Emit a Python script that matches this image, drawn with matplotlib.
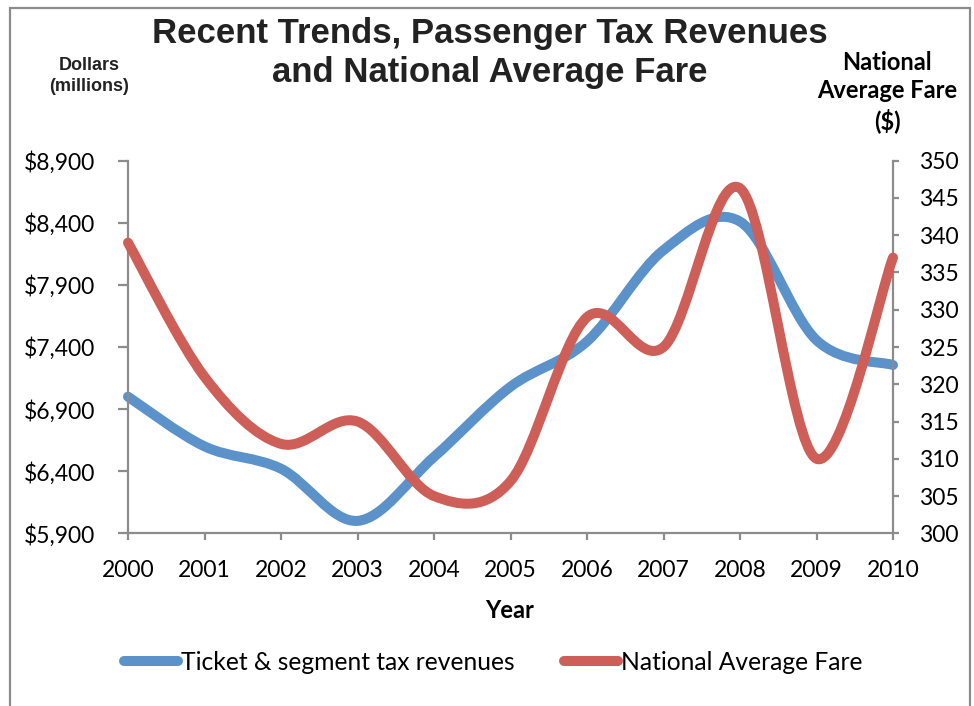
import matplotlib
matplotlib.use("Agg")
import matplotlib.pyplot as plt
from matplotlib.path import Path
from matplotlib.patches import PathPatch, Rectangle
from matplotlib.lines import Line2D
from matplotlib.ticker import FuncFormatter, MultipleLocator

years = [2000, 2001, 2002, 2003, 2004, 2005, 2006, 2007, 2008, 2009, 2010]
revenues = [7000, 6600, 6420, 6000, 6515, 7080, 7445, 8180, 8410, 7455, 7255]
avg_fare = [339, 321, 312, 315, 305, 307, 329, 325, 346.3, 310, 337]

dollar_ticks = [5900, 6400, 6900, 7400, 7900, 8400, 8900]
series_labels = ["Ticket & segment tax revenues", "National Average Fare"]
title = "Recent Trends, Passenger Tax Revenues\nand National Average Fare"

BLUE = "#5B92C9"
RED = "#CD5F58"
GRID = "#8C8C8C"


def smooth_path(xs, ys):
    """Cubic Bezier path through the points (Catmull-Rom style tangents)."""
    n = len(xs)
    verts = [(xs[0], ys[0])]
    codes = [Path.MOVETO]
    for i in range(n - 1):
        x0, y0 = (xs[i - 1], ys[i - 1]) if i > 0 else (xs[i], ys[i])
        x1, y1 = xs[i], ys[i]
        x2, y2 = xs[i + 1], ys[i + 1]
        x3, y3 = (xs[i + 2], ys[i + 2]) if i + 2 < n else (xs[i + 1], ys[i + 1])
        c1 = (x1 + (x2 - x0) / 6.0, y1 + (y2 - y0) / 6.0)
        c2 = (x2 - (x3 - x1) / 6.0, y2 - (y3 - y1) / 6.0)
        verts += [c1, c2, (x2, y2)]
        codes += [Path.CURVE4] * 3
    return Path(verts, codes)


fig = plt.figure(figsize=(9.74, 7.06), dpi=100)
fig.patch.set_facecolor("white")

# outer chart frame
fig.patches.append(Rectangle((10 / 974, -0.05), 960 / 974, 1.05 - 8 / 706,
                             transform=fig.transFigure, fill=False,
                             edgecolor=GRID, lw=1.6))

ax = fig.add_axes([128 / 974, 1 - 533.3 / 706, (893 - 128) / 974, (533.3 - 160.7) / 706])
ax2 = ax.twinx()

ax.set_xlim(2000, 2010)
ax.set_ylim(dollar_ticks[0], dollar_ticks[-1])
ax2.set_ylim(300, 350)
ax.set_yticks(dollar_ticks)
ax2.yaxis.set_major_locator(MultipleLocator(5))
ax.set_xticks(years)
ax.yaxis.set_major_formatter(FuncFormatter(lambda v, p: "${:,.0f}".format(v)))

for a in (ax, ax2):
    for s in a.spines.values():
        s.set_visible(False)
    a.patch.set_visible(False)
ax.spines["left"].set_visible(True)
ax.spines["bottom"].set_visible(True)
ax2.spines["right"].set_visible(True)
for s in (ax.spines["left"], ax.spines["bottom"], ax2.spines["right"]):
    s.set_color(GRID)
    s.set_linewidth(1.6)

ax.tick_params(axis="y", direction="out", length=7, width=1.6, color=GRID, pad=16.5,
               labelsize=16.5, labelcolor="black")
ax.tick_params(axis="x", direction="out", length=5, width=1.6, color=GRID, pad=14,
               labelsize=16.5, labelcolor="black")
ax2.tick_params(axis="y", direction="out", length=4, width=1.6, color=GRID, pad=14.5,
                labelsize=16.5, labelcolor="black")
for lab in ax.get_xticklabels() + ax.get_yticklabels() + ax2.get_yticklabels():
    lab.set_fontfamily("Lato")

ax.add_patch(PathPatch(smooth_path(years, revenues), fill=False, edgecolor=BLUE,
                       lw=7.2, capstyle="round", joinstyle="round", clip_on=False))
ax2.add_patch(PathPatch(smooth_path(years, avg_fare), fill=False, edgecolor=RED,
                        lw=7.2, capstyle="round", joinstyle="round", clip_on=False, zorder=3))

fig.text(490 / 974, 1 - 53 / 706, title, ha="center", va="center",
         family="Liberation Sans", weight="bold", size=25, color="#222222",
         linespacing=1.2)
fig.text(89 / 974, 1 - 76 / 706, "Dollars\n(millions)", ha="center", va="center",
         family="Liberation Sans", weight="bold", size=13, color="#222222",
         linespacing=1.3)
fig.text(887 / 974, 1 - 92 / 706, "National\nAverage Fare\n($)", ha="center",
         va="center", family="Lato", weight="bold", size=17, color="black",
         linespacing=1.3)
fig.text(510 / 974, 1 - 611 / 706, "Year", ha="center", va="center",
         family="Lato", weight="bold", size=17, color="black")

handles = [Line2D([], [], color=BLUE, lw=7.2, solid_capstyle="round"),
           Line2D([], [], color=RED, lw=7.2, solid_capstyle="round")]
fig.legend(handles, series_labels, loc="center", bbox_to_anchor=(493 / 974, 1 - 662 / 706),
           ncol=2, frameon=False, prop=dict(family="Lato", size=17.7),
           handlelength=2.2, handletextpad=0.12, columnspacing=2.0)

fig.savefig("out.png", dpi=100)
